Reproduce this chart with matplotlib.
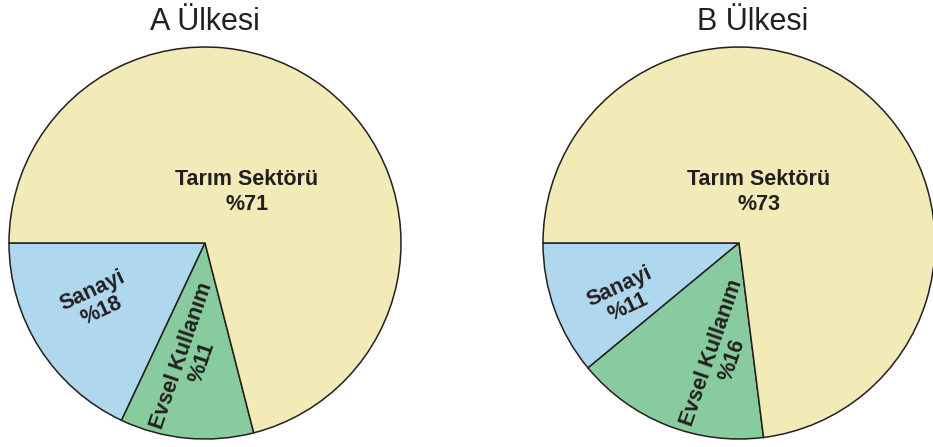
import matplotlib.pyplot as plt

sectors = ['Sanayi', 'Evsel Kullanım', 'Tarım Sektörü']
a_values = [18, 11, 71]
b_values = [11, 16, 73]
titles = ['A Ülkesi', 'B Ülkesi']
colors = ['#AFD8EF', '#88CB9E', '#F2EBB8']
ink = '#231F20'

plt.rcParams['font.family'] = ['Liberation Sans', 'DejaVu Sans']

fig = plt.figure(figsize=(9.33, 4.47), dpi=100)
ax = fig.add_axes([0, 0, 1, 1])

# pixel layout: (pie center, title x, label positions)
layouts = [
    dict(center=(205, 204), title_x=205,
         tarim=(247, 255), sanayi=(97, 146), evsel=(192, 88)),
    dict(center=(739, 204), title_x=753,
         tarim=(759, 255), sanayi=(624, 150), evsel=(722, 91)),
]

for values, title, lay in zip([a_values, b_values], titles, layouts):
    ax.pie(values, colors=colors, startangle=180, counterclock=True,
           center=lay['center'], radius=196,
           wedgeprops=dict(edgecolor=ink, linewidth=1.1), frame=True)
    ax.text(lay['title_x'], 425, title, ha='center', va='center',
            fontsize=22, color=ink)
    ax.text(*lay['tarim'], f'{sectors[2]}\n%{values[2]}', ha='center', va='center',
            fontsize=15.5, fontweight='bold', color=ink, linespacing=1.2)
    ax.text(*lay['sanayi'], f'{sectors[0]}\n%{values[0]}', ha='center', va='center',
            fontsize=15.5, fontweight='bold', color=ink, rotation=25,
            rotation_mode='anchor', linespacing=1.05)
    ax.text(*lay['evsel'], f'{sectors[1]}\n%{values[1]}', ha='center', va='center',
            fontsize=15.5, fontweight='bold', color=ink, rotation=71,
            rotation_mode='anchor', linespacing=1.05)

ax.set_xlim(0, 933)
ax.set_ylim(0, 447)
ax.set_aspect('equal')
ax.axis('off')

fig.savefig('out.png', dpi=100)
